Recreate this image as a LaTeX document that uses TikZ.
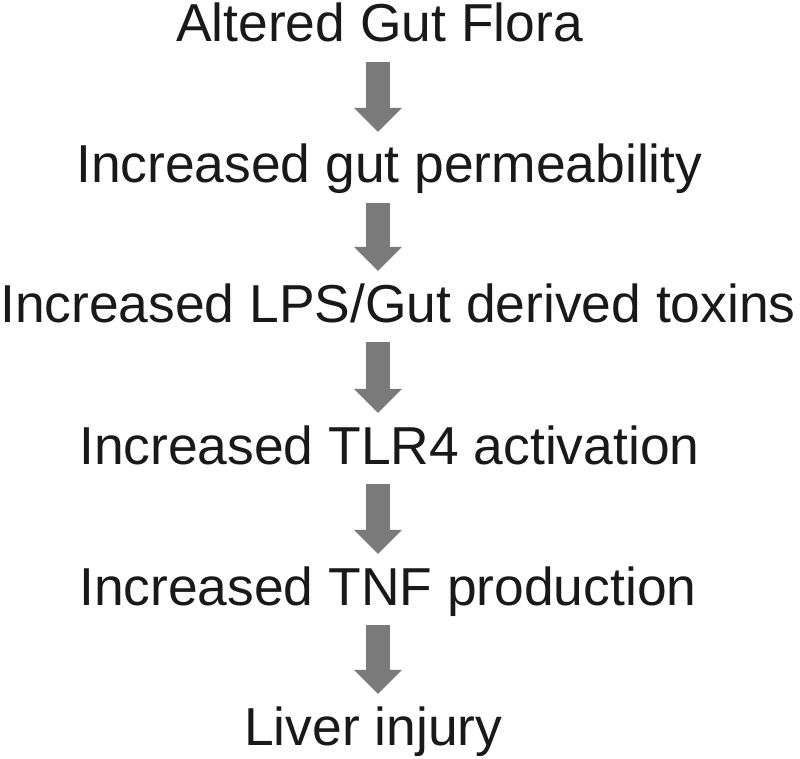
\documentclass[tikz,border=0pt]{standalone}
\usepackage{fontspec}
\setmainfont{Liberation Sans}
\usetikzlibrary{arrows.meta}
\definecolor{arrowgray}{RGB}{122,122,122}
\tikzstyle{stage}=[anchor=base west,inner sep=0pt,text height=39pt,text depth=12pt,font=\fontsize{53.4}{60}\selectfont,text=black!90]
\tikzstyle{fatarrow}=[draw=arrowgray,line width=24pt,-{Triangle[width=48pt,length=24pt,line width=0pt]},shorten <=8pt,shorten >=12pt]

\begin{document}
\begin{tikzpicture}[x=1pt,y=-1pt]
	\useasboundingbox (0,0) rectangle (800,759);
	\coordinate (spine) at (378,0); % arrows all sit on this vertical
	\node[stage] (flora) at (176,42) {Altered Gut Flora};
	\node[stage] (perm) at (76,183) {Increased gut permeability};
	\node[stage] (lps) at (0,322) {Increased LPS/Gut derived toxins};
	\node[stage] (tlr) at (79,464) {Increased TLR4 activation};
	\node[stage] (tnf) at (79,605) {Increased TNF production};
	\node[stage] (liver) at (244,745) {Liver injury};
	\foreach \a/\b in {flora/perm,perm/lps,lps/tlr,tlr/tnf,tnf/liver}
		\draw[fatarrow] (\a.south -| spine) -- (\b.north -| spine);
\end{tikzpicture}
\end{document}
